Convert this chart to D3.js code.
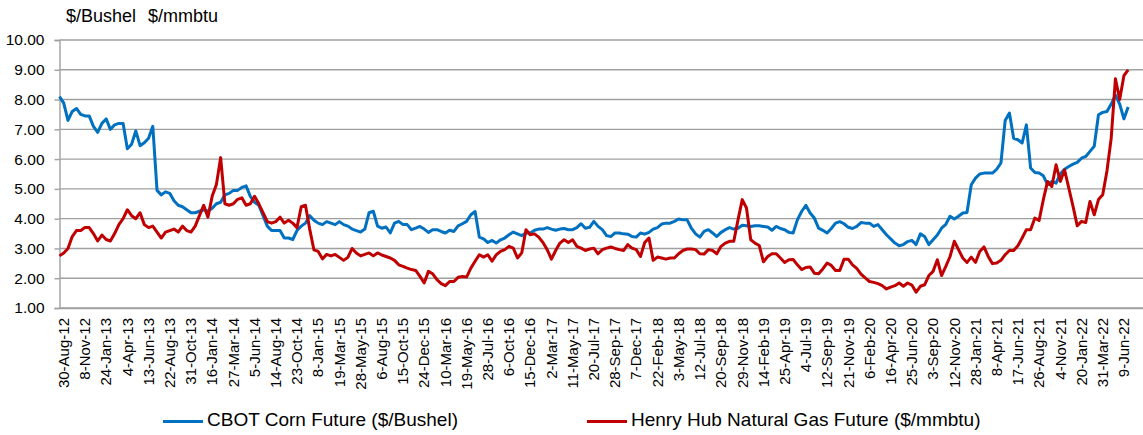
<!DOCTYPE html>
<html>
<head>
<meta charset="utf-8">
<script src="https://cdn.jsdelivr.net/npm/d3@7"></script>
<style>
  body { margin: 0; background: #fff; }
  svg text { font-family: Arial, "Liberation Sans", sans-serif; fill: #000; }
</style>
</head>
<body>
<div id="chart"></div>
<script>
// x axis category labels, one every 10 weekly points
const tickLabels = ['30-Aug-12', '8-Nov-12', '24-Jan-13', '4-Apr-13', '13-Jun-13', '22-Aug-13', '31-Oct-13',
  '16-Jan-14', '27-Mar-14', '5-Jun-14', '14-Aug-14', '23-Oct-14', '8-Jan-15', '19-Mar-15', '28-May-15',
  '6-Aug-15', '15-Oct-15', '24-Dec-15', '10-Mar-16', '19-May-16', '28-Jul-16', '6-Oct-16', '15-Dec-16',
  '2-Mar-17', '11-May-17', '20-Jul-17', '28-Sep-17', '7-Dec-17', '22-Feb-18', '3-May-18', '12-Jul-18',
  '20-Sep-18', '29-Nov-18', '14-Feb-19', '25-Apr-19', '4-Jul-19', '12-Sep-19', '21-Nov-19', '6-Feb-20',
  '16-Apr-20', '25-Jun-20', '3-Sep-20', '12-Nov-20', '28-Jan-21', '8-Apr-21', '17-Jun-21', '26-Aug-21',
  '4-Nov-21', '20-Jan-22', '31-Mar-22', '9-Jun-22'];
const LABEL_EVERY = 10;   // points between two labels
const STEP = 2;           // points between two samples below

const yTicks = [1, 2, 3, 4, 5, 6, 7, 8, 9, 10];

// CBOT corn future, $/bushel (every 2nd weekly point)
const corn = [
  8.10, 7.88, 7.30, 7.60, 7.70, 7.50, 7.45, 7.45, 7.10, 6.90,
  7.20, 7.35, 7.00, 7.15, 7.20, 7.20, 6.35, 6.50, 6.95, 6.45,
  6.55, 6.70, 7.10, 4.95, 4.80, 4.90, 4.85, 4.60, 4.45,
  4.40, 4.30, 4.20, 4.20, 4.25, 4.30, 4.25, 4.35, 4.50, 4.55,
  4.80, 4.85, 4.95, 4.95, 5.05, 5.10, 4.75, 4.55, 4.45, 4.10,
  3.75, 3.60, 3.60, 3.60, 3.35, 3.35, 3.30, 3.60, 3.75, 3.85,
  4.10, 3.95, 3.85, 3.80, 3.90, 3.85, 3.80, 3.90, 3.80,
  3.75, 3.65, 3.60, 3.55, 3.65, 4.20, 4.25, 3.75, 3.68, 3.72,
  3.52, 3.85, 3.91, 3.80, 3.80, 3.63, 3.68, 3.74, 3.65, 3.54,
  3.63, 3.63, 3.57, 3.52, 3.61, 3.57, 3.76, 3.83, 3.91, 4.13,
  4.24, 3.38, 3.32, 3.20, 3.27, 3.18, 3.29, 3.35, 3.46,
  3.55, 3.49, 3.43, 3.52, 3.52, 3.61, 3.65, 3.65, 3.70, 3.65,
  3.61, 3.65, 3.67, 3.63, 3.63, 3.70, 3.83, 3.68, 3.71, 3.91,
  3.74, 3.63, 3.43, 3.40, 3.52, 3.52, 3.49, 3.48, 3.40, 3.38,
  3.52, 3.48, 3.54, 3.65, 3.70, 3.82, 3.85, 3.85, 3.91,
  3.99, 3.96, 3.96, 3.68, 3.49, 3.38, 3.57, 3.63, 3.52, 3.40,
  3.54, 3.63, 3.70, 3.65, 3.68, 3.78, 3.76, 3.74, 3.76, 3.76,
  3.74, 3.72, 3.61, 3.74, 3.67, 3.63, 3.54, 3.52, 3.96, 4.24,
  4.45, 4.19, 4.02, 3.68, 3.61, 3.52, 3.67, 3.85, 3.90,
  3.83, 3.71, 3.67, 3.74, 3.87, 3.85, 3.85, 3.74, 3.80, 3.63,
  3.46, 3.32, 3.18, 3.09, 3.13, 3.23, 3.27, 3.13, 3.49, 3.40,
  3.13, 3.29, 3.45, 3.68, 3.81, 4.08, 3.99, 4.08, 4.19, 4.21,
  5.14, 5.36, 5.50, 5.53, 5.53, 5.53, 5.66, 5.87, 7.30,
  7.55, 6.70, 6.65, 6.54, 7.15, 5.70, 5.55, 5.53, 5.44, 5.14,
  5.25, 5.19, 5.51, 5.66, 5.75, 5.83, 5.89, 6.03, 6.09, 6.26, 6.43,
  7.49, 7.57, 7.60, 7.85, 8.15, 7.85, 7.35, 7.75
];

// Henry Hub natural gas future, $/mmbtu (every 2nd weekly point)
const gas = [
  2.75, 2.85, 3.00, 3.40, 3.60, 3.60, 3.70, 3.70, 3.50, 3.25,
  3.45, 3.30, 3.25, 3.50, 3.80, 4.00, 4.30, 4.10, 4.00, 4.20,
  3.80, 3.70, 3.75, 3.55, 3.35, 3.55, 3.60, 3.65, 3.55,
  3.75, 3.60, 3.55, 3.75, 4.10, 4.45, 4.05, 4.75, 5.15, 6.05,
  4.50, 4.45, 4.50, 4.65, 4.70, 4.45, 4.50, 4.75, 4.50, 4.20,
  3.90, 3.85, 3.90, 4.05, 3.85, 3.95, 3.85, 3.70, 4.40, 4.45,
  3.65, 2.95, 2.90, 2.65, 2.80, 2.75, 2.80, 2.70, 2.60,
  2.70, 3.00, 2.85, 2.75, 2.80, 2.85, 2.75, 2.85, 2.78, 2.73,
  2.68, 2.60, 2.45, 2.40, 2.34, 2.29, 2.26, 2.06, 1.84, 2.23,
  2.15, 1.95, 1.82, 1.75, 1.89, 1.89, 2.03, 2.06, 2.04, 2.34,
  2.57, 2.79, 2.71, 2.79, 2.57, 2.79, 2.90, 2.96, 3.07,
  3.01, 2.68, 2.85, 3.63, 3.46, 3.49, 3.38, 3.20, 2.96, 2.64,
  2.93, 3.18, 3.29, 3.20, 3.29, 3.07, 3.01, 2.93, 2.98, 3.01,
  2.82, 2.96, 3.01, 3.05, 3.00, 2.96, 2.93, 3.13, 3.01, 2.96,
  2.73, 3.20, 3.35, 2.60, 2.71, 2.68, 2.64, 2.68, 2.68,
  2.82, 2.93, 2.98, 2.98, 2.96, 2.82, 2.81, 2.96, 2.93, 2.82,
  3.07, 3.18, 3.24, 3.24, 3.96, 4.64, 4.36, 3.29, 3.18, 3.10,
  2.55, 2.73, 2.82, 2.82, 2.68, 2.53, 2.62, 2.63, 2.45, 2.29,
  2.36, 2.38, 2.17, 2.15, 2.31, 2.51, 2.43, 2.26, 2.26,
  2.64, 2.64, 2.45, 2.33, 2.14, 2.01, 1.89, 1.86, 1.82, 1.75,
  1.64, 1.70, 1.75, 1.84, 1.73, 1.84, 1.77, 1.53, 1.73, 1.78,
  2.09, 2.23, 2.62, 2.09, 2.40, 2.73, 3.24, 2.96, 2.68, 2.53,
  2.71, 2.53, 2.90, 3.05, 2.73, 2.49, 2.51, 2.60, 2.79,
  2.93, 2.93, 3.09, 3.35, 3.63, 3.63, 4.02, 3.94, 4.64, 5.25,
  5.08, 5.81, 5.25, 5.64, 5.03, 4.41, 3.76, 3.91, 3.87, 4.58, 4.13,
  4.64, 4.80, 5.60, 6.70, 8.70, 8.00, 8.80, 9.00
];

const series = [
  { name: 'CBOT Corn Future ($/Bushel)', values: corn, color: '#0070C0' },
  { name: 'Henry Hub Natural Gas Future ($/mmbtu)', values: gas, color: '#C00000' }
];

// Layout
const width = 1143;
const height = 435;
const plot = { left: 59.5, right: 1143, top: 40, bottom: 308 };

const svg = d3.select('#chart')
  .append('svg')
    .attr('width', width)
    .attr('height', height);

// Scales
const xScale = d3.scaleLinear()
  .domain([0, 511])
  .range([plot.left, plot.right]);

const yScale = d3.scaleLinear()
  .domain([1, 10])
  .range([plot.bottom, plot.top]);

// Gridlines
svg.append('g')
  .selectAll('line')
  .data(yTicks)
  .join('line')
    .attr('x1', plot.left)
    .attr('x2', plot.right)
    .attr('y1', d => yScale(d))
    .attr('y2', d => yScale(d))
    .attr('stroke', '#a0a0a0')
    .attr('stroke-width', 1.4);

// Y axis
const yAxis = d3.axisLeft(yScale)
  .tickValues(yTicks)
  .tickFormat(d3.format('.2f'))
  .tickSize(5)
  .tickPadding(10);

svg.append('g')
  .attr('transform', `translate(${plot.left},0)`)
  .call(yAxis)
  .call(g => g.select('.domain').attr('stroke', '#a0a0a0').attr('stroke-width', 1.4))
  .call(g => g.selectAll('.tick line').attr('stroke', '#a0a0a0').attr('stroke-width', 1.4))
  .call(g => g.selectAll('.tick text')
    .style('font-family', 'Arial, "Liberation Sans", sans-serif')
    .style('font-size', '15.5px')
    .attr('fill', '#000'));

// X axis (labels only, rotated)
const xAxis = d3.axisBottom(xScale)
  .tickValues(tickLabels.map((d, i) => i * LABEL_EVERY))
  .tickFormat((d, i) => tickLabels[i])
  .tickSize(0)
  .tickPadding(0);

svg.append('g')
  .attr('transform', `translate(0,${plot.bottom})`)
  .call(xAxis)
  .call(g => g.select('.domain').attr('stroke', '#a0a0a0').attr('stroke-width', 1.4))
  .call(g => g.selectAll('.tick text')
    .style('font-family', 'Arial, "Liberation Sans", sans-serif')
    .style('font-size', '15px')
    .attr('fill', '#000')
    .attr('text-anchor', 'end')
    .attr('dy', null)
    .attr('y', 0)
    .attr('transform', 'translate(3.5,10) rotate(-90)')
    .attr('dominant-baseline', 'central'));

// Lines
const line = d3.line()
  .x((d, i) => xScale(i * STEP))
  .y(d => yScale(d));

svg.append('g')
  .selectAll('path')
  .data(series)
  .join('path')
    .attr('d', d => line(d.values))
    .attr('fill', 'none')
    .attr('stroke', d => d.color)
    .attr('stroke-width', 3)
    .attr('stroke-linejoin', 'round');

// Unit labels above the axis
svg.append('text')
  .attr('x', 66)
  .attr('y', 22)
  .style('font-size', '18px')
  .text('$/Bushel');
svg.append('text')
  .attr('x', 148)
  .attr('y', 22)
  .style('font-size', '18px')
  .text('$/mmbtu');

// Legend
const legendPos = [163, 587];
const legend = svg.append('g')
  .selectAll('g')
  .data(series)
  .join('g')
    .attr('transform', (d, i) => `translate(${legendPos[i]},421.5)`);

legend.append('line')
  .attr('x1', 0)
  .attr('x2', 40)
  .attr('stroke', d => d.color)
  .attr('stroke-width', 3);

legend.append('text')
  .attr('x', 44)
  .attr('y', 4.5)
  .style('font-size', '19px')
  .text(d => d.name);
</script>
</body>
</html>
